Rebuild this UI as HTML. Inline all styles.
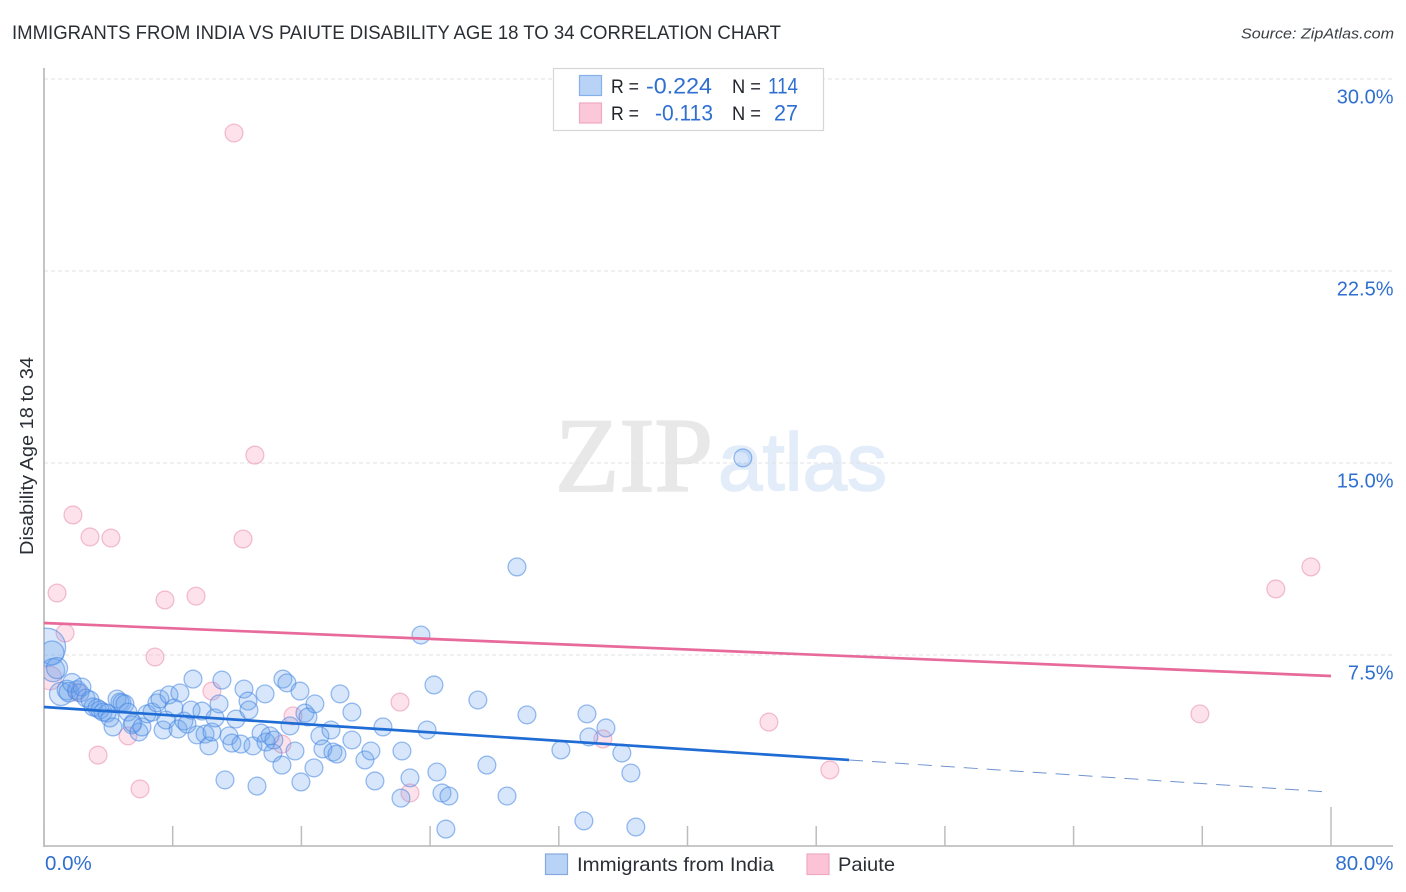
<!DOCTYPE html>
<html lang="en">
<head>
<meta charset="utf-8">
<title>Immigrants from India vs Paiute Disability Age 18 to 34 Correlation Chart</title>
<style>
html,body{margin:0;padding:0;background:#fff;}
svg{display:block;font-family:"Liberation Sans",sans-serif;}
</style>
</head>
<body>
<svg id="chart" width="1406" height="892" viewBox="0 0 1406 892" xmlns="http://www.w3.org/2000/svg">
  <defs>
    <clipPath id="plot-clip"><rect x="44" y="60" width="1349" height="786"/></clipPath>
  </defs>
  <rect x="0" y="0" width="1406" height="892" fill="#ffffff"/>
  <text x="12" y="39" font-size="19" fill="#2a2f36" textLength="769" lengthAdjust="spacingAndGlyphs">IMMIGRANTS FROM INDIA VS PAIUTE DISABILITY AGE 18 TO 34 CORRELATION CHART</text>
  <text x="1241" y="38.5" font-size="15" font-style="italic" fill="#3a3f46" textLength="153" lengthAdjust="spacingAndGlyphs">Source: ZipAtlas.com</text>

  <g>
    <text x="555" y="491" font-family="'Liberation Serif',serif" font-size="106" fill="#e8e8e8" stroke="#e8e8e8" stroke-width="1.8" textLength="158" lengthAdjust="spacingAndGlyphs">ZIP</text>
    <text x="718" y="490" font-size="82" fill="#e3ecf9" stroke="#e3ecf9" stroke-width="1.5" textLength="169" lengthAdjust="spacingAndGlyphs">atlas</text>
  </g>

  <g id="grid"></g>
  <g id="axes"></g>
  <g id="pink-points" clip-path="url(#plot-clip)"></g>
  <g id="blue-points" clip-path="url(#plot-clip)"></g>
  <g id="trends"></g>
  <g id="tick-labels"></g>

  <text transform="translate(33,456) rotate(-90)" text-anchor="middle" font-size="18.5" fill="#2a2f36" textLength="198" lengthAdjust="spacingAndGlyphs">Disability Age 18 to 34</text>

  <g>
    <rect x="553.5" y="68.5" width="270" height="62" fill="#ffffff" stroke="#d6d6d6" stroke-width="1.2"/>
    <rect x="579.5" y="75.5" width="22" height="20" fill="#b9d3f7" stroke="#86b0e8" stroke-width="1.2"/>
    <rect x="579.5" y="103" width="22" height="20" fill="#fac8d9" stroke="#efa9c0" stroke-width="1.2"/>
    <text x="611" y="93" font-size="19.5" fill="#22262c" textLength="28" lengthAdjust="spacingAndGlyphs">R =</text>
    <text x="646" y="93.5" font-size="22" fill="#2f6fd0" textLength="66" lengthAdjust="spacingAndGlyphs">-0.224</text>
    <text x="732" y="93" font-size="19.5" fill="#22262c" textLength="29" lengthAdjust="spacingAndGlyphs">N =</text>
    <text x="768" y="93.5" font-size="22" fill="#2f6fd0" textLength="30" lengthAdjust="spacingAndGlyphs">114</text>
    <text x="611" y="120" font-size="19.5" fill="#22262c" textLength="28" lengthAdjust="spacingAndGlyphs">R =</text>
    <text x="655" y="120.5" font-size="22" fill="#2f6fd0" textLength="58" lengthAdjust="spacingAndGlyphs">-0.113</text>
    <text x="732" y="120" font-size="19.5" fill="#22262c" textLength="29" lengthAdjust="spacingAndGlyphs">N =</text>
    <text x="774" y="120.5" font-size="22" fill="#2f6fd0" textLength="24" lengthAdjust="spacingAndGlyphs">27</text>
  </g>

  <g>
    <rect x="545.5" y="854" width="22" height="20.5" fill="#b9d3f7" stroke="#86a9dd" stroke-width="1.2"/>
    <text x="577" y="871" font-size="19.5" fill="#2a2f36" textLength="197" lengthAdjust="spacingAndGlyphs">Immigrants from India</text>
    <rect x="807" y="854" width="22" height="20.5" fill="#fcc3d6" stroke="#efa9c0" stroke-width="1.2"/>
    <text x="838" y="871" font-size="19.5" fill="#2a2f36" textLength="57" lengthAdjust="spacingAndGlyphs">Paiute</text>
  </g>
</svg>
<script>
// Data, in chart units (percent).
const blueX = [0.17,0.50,0.56,0.81,1.06,1.43,1.55,1.74,2.05,2.24,2.36,2.61,2.86,3.05,3.29,3.48,3.67,3.92,4.10,4.29,4.54,4.72,4.85,5.03,5.22,5.47,5.53,5.90,6.09,6.40,6.71,7.02,7.21,7.40,7.58,7.77,8.08,8.33,8.45,8.70,8.89,9.14,9.26,9.51,9.82,10.01,10.25,10.44,10.63,10.88,11.06,11.25,11.50,11.68,11.93,12.24,12.43,12.68,12.74,12.99,13.24,13.49,13.74,13.80,14.05,14.23,14.29,14.79,14.85,15.10,15.29,15.60,15.91,15.97,16.22,16.41,16.78,16.84,17.15,17.34,17.84,17.96,18.21,18.40,19.14,19.14,19.95,20.32,20.57,21.07,22.19,22.25,22.75,23.43,23.81,24.24,24.42,24.74,24.98,25.17,26.97,27.53,28.78,29.40,30.02,32.13,33.56,33.75,33.87,34.93,35.92,36.48,36.79,43.44];
const blueY = [7.81,7.58,6.91,6.99,5.98,6.13,6.05,6.41,6.13,6.02,6.25,5.82,5.74,5.47,5.43,5.35,5.27,5.23,5.04,4.69,5.78,5.66,5.63,5.59,5.27,4.77,4.84,4.49,4.69,5.20,5.27,5.63,5.78,4.57,4.96,5.94,5.43,4.61,6.02,4.92,4.80,5.35,6.56,4.38,5.31,4.41,3.95,4.49,5.04,5.59,6.52,2.62,4.34,4.06,5.00,4.02,6.17,5.70,5.35,3.95,2.38,4.45,5.98,4.10,4.34,3.67,4.18,3.20,6.56,6.41,4.73,3.75,6.09,2.54,5.23,5.08,3.09,5.59,4.34,3.83,4.57,3.71,3.63,5.98,5.27,4.18,3.40,3.75,2.58,4.69,1.91,3.75,2.70,8.28,4.57,6.33,2.93,2.11,0.70,1.99,5.74,3.20,1.99,10.94,5.16,3.79,1.02,5.20,4.30,4.65,3.67,2.89,0.78,15.20];
const blueWeights = [4.5,1.8,1.7,1.4,1.7,1.2,1.2,1.1,1.1];
const pinkX = [11.81,13.11,12.37,1.80,2.86,4.16,0.81,7.52,9.45,1.31,6.90,0.37,2.05,10.44,3.36,5.22,5.97,15.48,22.13,22.75,14.79,34.74,45.06,48.85,71.85,76.57,78.75];
const pinkY = [27.89,15.31,12.03,12.97,12.11,12.07,9.92,9.65,9.80,8.36,7.42,6.60,6.05,6.09,3.59,4.34,2.27,5.12,5.66,2.11,4.02,4.22,4.88,3.01,5.20,10.08,10.94];
const pinkWeights = [1,1,1,1,1,1,1,1,1,1,1,1.75];
const blueTrendX = [0, 50.04];
const blueTrendY = [5.47, 3.40];
const blueForecastX = [50.04, 79.8];
const blueForecastY = [3.40, 2.15];
const pinkTrendX = [0, 80];
const pinkTrendY = [8.75, 6.68];
const xTicks = [0,8,16,24,32,40,48,56,64,72,80];
const yTicks = [7.5,15,22.5,30];
const yTickLabels = ["7.5%","15.0%","22.5%","30.0%"];
const xEndValues = [0,80];
const xEndLabels = ["0.0%","80.0%"];

// Axis functions.
const xScale = v => 44 + v * 16.0875;
const yScale = v => 847 - v * 25.6;
const radius = w => 8.9 * Math.sqrt(w === undefined ? 1 : w);

const NS = "http://www.w3.org/2000/svg";
function make(tag, parent, attrs, text) {
  const el = document.createElementNS(NS, tag);
  Object.keys(attrs).forEach(k => el.setAttribute(k, attrs[k]));
  if (text !== undefined) el.textContent = text;
  parent.appendChild(el);
  return el;
}

const grid = document.getElementById("grid");
yTicks.forEach(v => {
  const el = make("line", grid, {x1:44, x2:1393, y1:yScale(v), y2:yScale(v), stroke:"#e2e2e2", "stroke-width":1, "stroke-dasharray":"4 3"});
  
  
});

const axes = document.getElementById("axes");
const yAxis = make("line", axes, {x1:44, x2:44, y1:68, y2:847, stroke:"#b5b5b5", "stroke-width":1.6});


const xAxis = make("line", axes, {x1:44, x2:1393, y1:846, y2:846, stroke:"#b5b5b5", "stroke-width":1.6});


xTicks.forEach((v, i) => {
  const top = i === xTicks.length - 1 ? 807 : 826;
  const el = make("line", axes, {x1:xScale(v), x2:xScale(v), y1:top, y2:846, stroke:"#bdbdbd", "stroke-width":1.5});
  
  
});

const pinkLayer = document.getElementById("pink-points");
pinkX.forEach((x, i) => {
  const el = make("circle", pinkLayer, {cx:xScale(x), cy:yScale(pinkY[i]), r:radius(pinkWeights[i]), fill:"rgba(250,175,200,0.36)", stroke:"rgba(235,150,180,0.6)", "stroke-width":1.3});
  
  
});

const blueLayer = document.getElementById("blue-points");
blueX.forEach((x, i) => {
  const el = make("circle", blueLayer, {cx:xScale(x), cy:yScale(blueY[i]), r:radius(blueWeights[i]), fill:"rgba(108,163,238,0.27)", stroke:"rgba(70,135,225,0.55)", "stroke-width":1.3});
  
  
});

const trends = document.getElementById("trends");
const pinkLine = make("line", trends, {x1:xScale(pinkTrendX[0]), y1:yScale(pinkTrendY[0]), x2:xScale(pinkTrendX[1]), y2:yScale(pinkTrendY[1]), stroke:"#e76a9b", "stroke-width":2.7});


const blueLine = make("line", trends, {x1:xScale(blueTrendX[0]), y1:yScale(blueTrendY[0]), x2:xScale(blueTrendX[1]), y2:yScale(blueTrendY[1]), stroke:"#1f6cd4", "stroke-width":2.7});


const blueDash = make("line", trends, {x1:xScale(blueForecastX[0]), y1:yScale(blueForecastY[0]), x2:xScale(blueForecastX[1]), y2:yScale(blueForecastY[1]), stroke:"#6f93cf", "stroke-width":1, "stroke-dasharray":"14 9"});



const tickLabels = document.getElementById("tick-labels");
yTicks.forEach((v, i) => {
  const el = make("text", tickLabels, {x:1393.5, y:yScale(v) + 24.5, "text-anchor":"end", "font-size":20, fill:"#2f6fd0"}, yTickLabels[i]);
  
  
});
xEndValues.forEach((v, i) => {
  const el = make("text", tickLabels, i === 0
    ? {x:xScale(v) + 1, y:870, "text-anchor":"start", "font-size":20.5, fill:"#2f6fd0"}
    : {x:1393.5, y:870, "text-anchor":"end", "font-size":20.5, fill:"#2f6fd0"}, xEndLabels[i]);
  
  
});
</script>
</body>
</html>
